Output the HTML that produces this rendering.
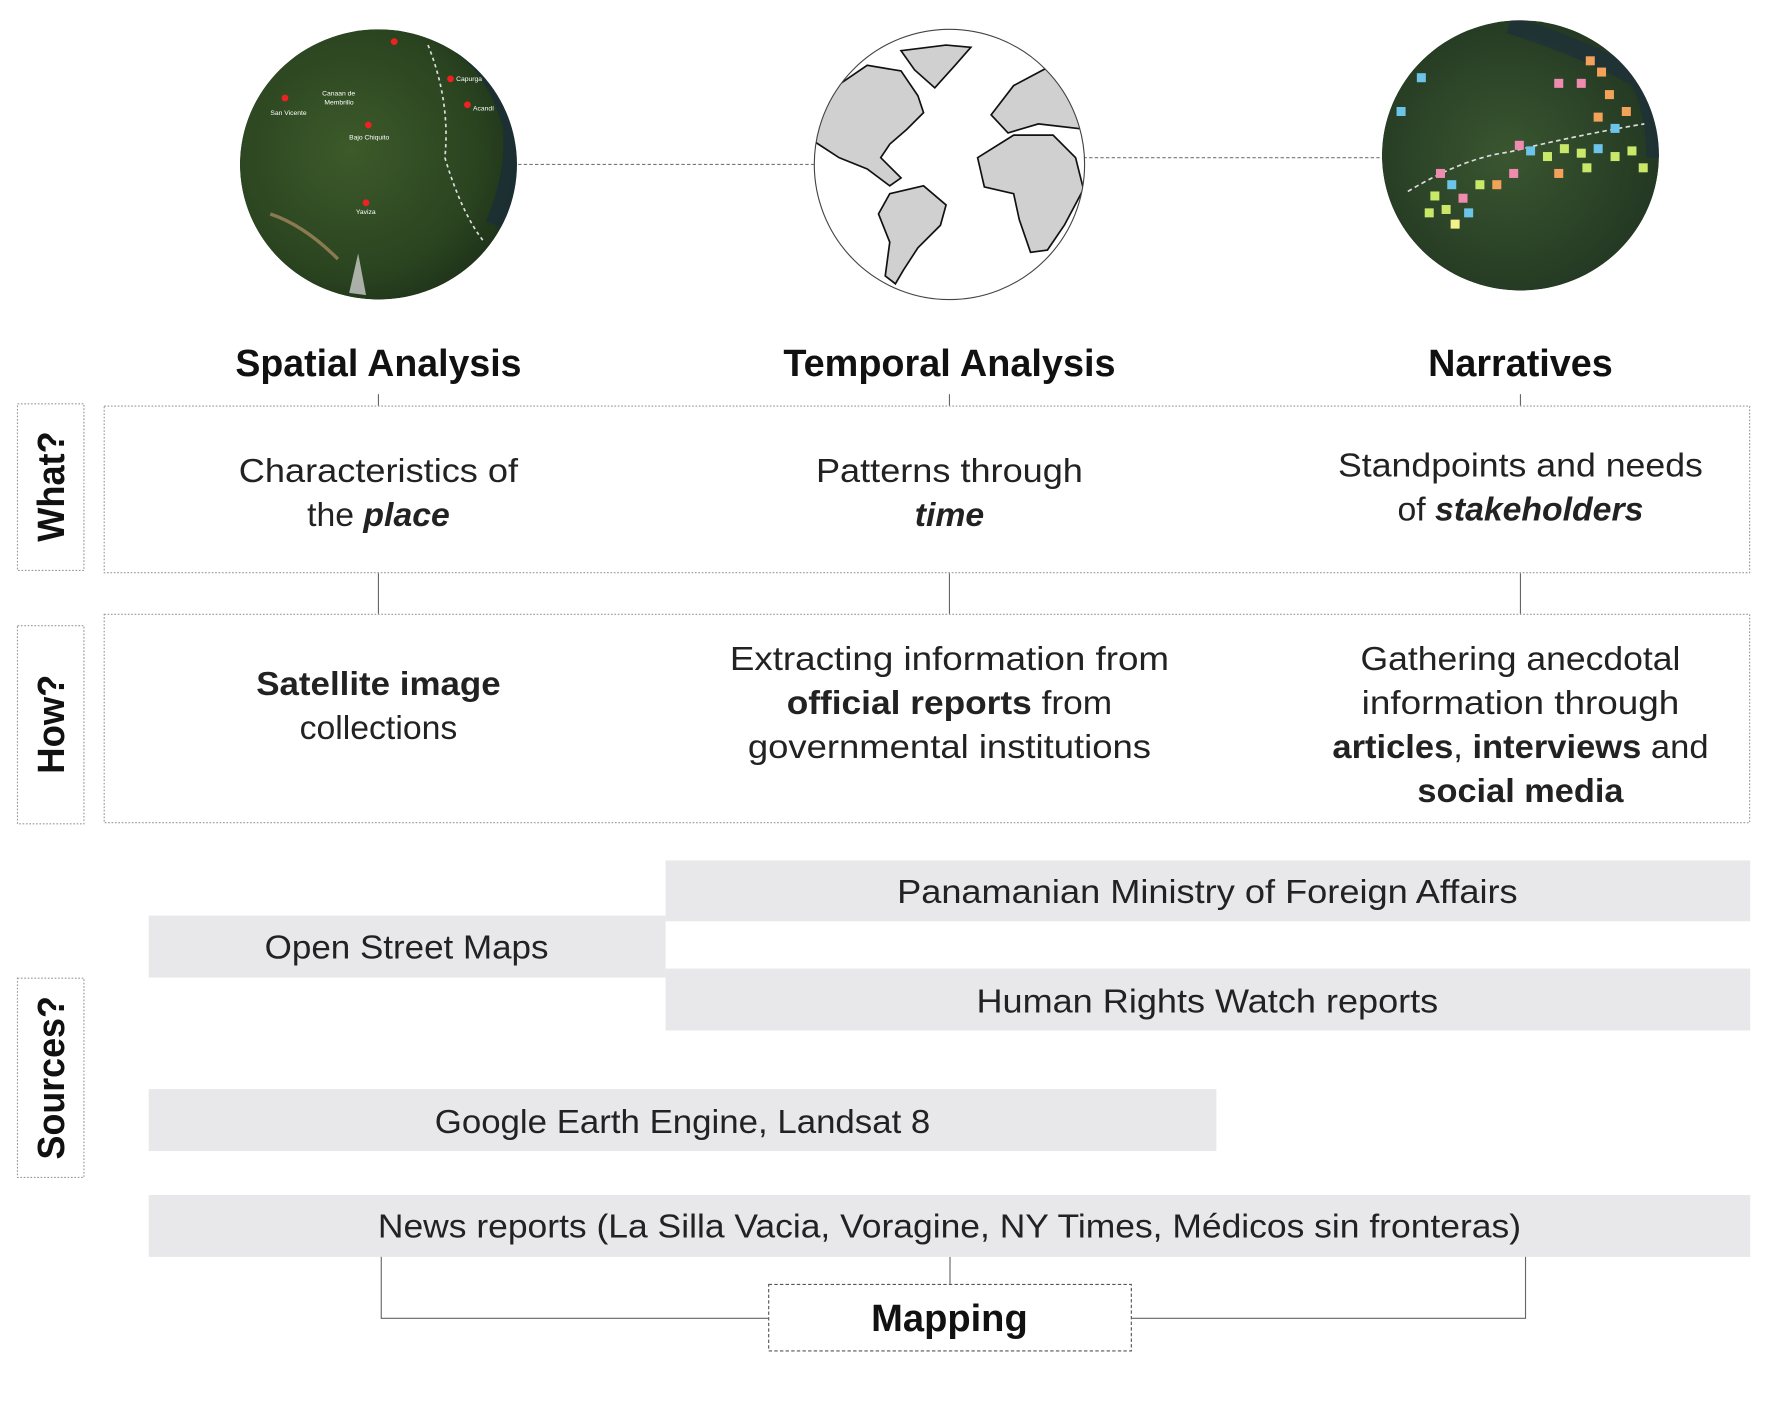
<!DOCTYPE html>
<html><head><meta charset="utf-8"><style>
html,body{margin:0;padding:0;background:#fff;}
svg{display:block;}
text{font-family:"Liberation Sans",sans-serif;}
.h{font-weight:bold;font-size:34px;fill:#111;}
.b{font-size:30px;fill:#222;}
.bb{font-weight:bold;}
.bi{font-weight:bold;font-style:italic;}
</style></head><body>
<svg width="1766" height="1406" viewBox="0 0 1568 1248.4" xmlns="http://www.w3.org/2000/svg">
<defs>
<radialGradient id="g1" cx="40%" cy="45%" r="65%"><stop offset="0" stop-color="#3d5a2a"/><stop offset="0.7" stop-color="#2a4420"/><stop offset="1" stop-color="#1d3018"/></radialGradient>
<radialGradient id="g3" cx="45%" cy="50%" r="65%"><stop offset="0" stop-color="#3a5630"/><stop offset="1" stop-color="#1f3320"/></radialGradient>
<clipPath id="c1"><ellipse cx="336" cy="146" rx="123" ry="120"/></clipPath>
<clipPath id="c2"><circle cx="843" cy="146" r="120"/></clipPath>
<clipPath id="c3"><ellipse cx="1350" cy="138" rx="123" ry="120"/></clipPath>
</defs>
<line x1="460" y1="146" x2="723" y2="146" stroke="#777" stroke-width="1" stroke-dasharray="3,2"/>
<line x1="962" y1="140" x2="1228" y2="140" stroke="#777" stroke-width="1" stroke-dasharray="3,2"/>
<!-- left circle -->
<g clip-path="url(#c1)">
<ellipse cx="336" cy="146" rx="123" ry="120" fill="url(#g1)"/>
<path d="M410 40 Q440 60 455 110 Q460 150 440 200" stroke="#1a2c3c" stroke-width="18" fill="none" opacity="0.7"/>
<path d="M380 40 Q400 90 395 140 Q410 190 430 215" stroke="#ddd" stroke-width="1.5" stroke-dasharray="3,3" fill="none"/>
<path d="M240 190 Q270 200 300 230" stroke="#8a7a50" stroke-width="3" fill="none"/>
<path d="M310 260 L318 225 L325 262 Z" fill="#ccc" opacity="0.8"/>
<g fill="#e22"><circle cx="350" cy="37" r="3"/><circle cx="400" cy="70" r="3"/><circle cx="253" cy="87" r="3"/><circle cx="327" cy="111" r="3"/><circle cx="325" cy="180" r="3"/><circle cx="415" cy="93" r="3"/></g>
<g fill="#fff" font-size="6"><text x="240" y="102">San Vicente</text><text x="286" y="85">Canaan de</text><text x="288" y="93">Membrillo</text><text x="310" y="124">Bajo Chiquito</text><text x="316" y="190">Yaviza</text><text x="405" y="72">Capurga</text><text x="420" y="98">Acandí</text></g>
</g>
<!-- middle globe -->
<circle cx="843" cy="146" r="120" fill="#fff"/>
<g clip-path="url(#c2)" fill="#d0d0d0" stroke="#111" stroke-width="1.5">
<path d="M720 110 L745 75 L770 58 L800 63 L815 85 L820 100 L805 115 L790 128 L782 140 L800 158 L790 165 L770 150 L745 140 L722 125 Z"/>
<path d="M800 45 L840 40 L862 42 L848 58 L830 78 L812 62 Z"/>
<path d="M790 172 L820 165 L840 182 L835 200 L815 220 L802 240 L795 252 L786 245 L790 215 L780 190 Z"/>
<path d="M868 140 L900 120 L935 120 L955 140 L962 168 L945 200 L930 222 L915 224 L905 195 L900 172 L874 166 Z"/>
<path d="M880 102 L900 76 L930 60 L955 72 L965 115 L922 110 L895 118 Z"/>
</g>
<circle cx="843" cy="146" r="120" fill="none" stroke="#444" stroke-width="1"/>
<!-- right circle -->
<g clip-path="url(#c3)">
<ellipse cx="1350" cy="138" rx="123" ry="120" fill="url(#g3)"/>
<path d="M1340 22 Q1400 40 1455 70 Q1470 100 1470 140" stroke="#1c2d3f" stroke-width="16" fill="none" opacity="0.6"/>
<path d="M1250 170 Q1300 140 1340 135 Q1400 120 1460 110" stroke="#ddd" stroke-width="1.5" stroke-dasharray="4,3" fill="none"/>
<rect x="1408" y="50" width="8" height="8" fill="#f4a259"/><rect x="1418" y="60" width="8" height="8" fill="#f4a259"/><rect x="1400" y="70" width="8" height="8" fill="#f08bb0"/><rect x="1425" y="80" width="8" height="8" fill="#f4a259"/><rect x="1415" y="100" width="8" height="8" fill="#f4a259"/><rect x="1440" y="95" width="8" height="8" fill="#f4a259"/><rect x="1430" y="110" width="8" height="8" fill="#6cc5e8"/><rect x="1258" y="65" width="8" height="8" fill="#6cc5e8"/><rect x="1240" y="95" width="8" height="8" fill="#6cc5e8"/><rect x="1380" y="70" width="8" height="8" fill="#f08bb0"/>
<rect x="1345" y="125" width="8" height="8" fill="#f08bb0"/><rect x="1355" y="130" width="8" height="8" fill="#6cc5e8"/><rect x="1370" y="135" width="8" height="8" fill="#c9e86a"/><rect x="1385" y="128" width="8" height="8" fill="#c9e86a"/><rect x="1400" y="132" width="8" height="8" fill="#c9e86a"/><rect x="1415" y="128" width="8" height="8" fill="#6cc5e8"/><rect x="1430" y="135" width="8" height="8" fill="#c9e86a"/><rect x="1445" y="130" width="8" height="8" fill="#c9e86a"/><rect x="1455" y="145" width="8" height="8" fill="#c9e86a"/><rect x="1405" y="145" width="8" height="8" fill="#c9e86a"/><rect x="1380" y="150" width="8" height="8" fill="#f4a259"/><rect x="1340" y="150" width="8" height="8" fill="#f08bb0"/><rect x="1325" y="160" width="8" height="8" fill="#f4a259"/>
<rect x="1275" y="150" width="8" height="8" fill="#f08bb0"/><rect x="1285" y="160" width="8" height="8" fill="#6cc5e8"/><rect x="1270" y="170" width="8" height="8" fill="#c9e86a"/><rect x="1295" y="172" width="8" height="8" fill="#f08bb0"/><rect x="1280" y="182" width="8" height="8" fill="#c9e86a"/><rect x="1265" y="185" width="8" height="8" fill="#c9e86a"/><rect x="1300" y="185" width="8" height="8" fill="#6cc5e8"/><rect x="1288" y="195" width="8" height="8" fill="#f4f08a"/><rect x="1310" y="160" width="8" height="8" fill="#c9e86a"/>
</g>
<!-- headings -->
<text class="h" x="336" y="334" text-anchor="middle" textLength="254" lengthAdjust="spacingAndGlyphs">Spatial Analysis</text>
<text class="h" x="843" y="334" text-anchor="middle" textLength="295" lengthAdjust="spacingAndGlyphs">Temporal Analysis</text>
<text class="h" x="1350" y="334" text-anchor="middle" textLength="164" lengthAdjust="spacingAndGlyphs">Narratives</text>
<g stroke="#666" stroke-width="1">
<line x1="336" y1="350" x2="336" y2="360"/><line x1="843" y1="350" x2="843" y2="360"/><line x1="1350" y1="350" x2="1350" y2="360"/>
<line x1="336" y1="509" x2="336" y2="545"/><line x1="843" y1="509" x2="843" y2="545"/><line x1="1350" y1="509" x2="1350" y2="545"/>
</g>
<g fill="none" stroke="#999" stroke-width="1" stroke-dasharray="1.5,1.5">
<rect x="15.5" y="358.5" width="59" height="148"/>
<rect x="92.5" y="360.5" width="1461" height="148"/>
<rect x="15.5" y="555.5" width="59" height="176"/>
<rect x="92.5" y="545.5" width="1461" height="185"/>
<rect x="15.5" y="868.5" width="59" height="177"/>
</g>
<text class="h" transform="translate(57,432) rotate(-90)" text-anchor="middle" textLength="98" lengthAdjust="spacingAndGlyphs">What?</text>
<text class="h" transform="translate(57,643) rotate(-90)" text-anchor="middle" textLength="88" lengthAdjust="spacingAndGlyphs">How?</text>
<text class="h" transform="translate(57,957) rotate(-90)" text-anchor="middle" textLength="145" lengthAdjust="spacingAndGlyphs">Sources?</text>
<text class="b" x="336" y="428" text-anchor="middle" textLength="248" lengthAdjust="spacingAndGlyphs">Characteristics of</text>
<text class="b" x="336" y="467" text-anchor="middle">the <tspan class="bi">place</tspan></text>
<text class="b" x="843" y="428" text-anchor="middle" textLength="237" lengthAdjust="spacingAndGlyphs">Patterns through</text>
<text class="b bi" x="843" y="467" text-anchor="middle">time</text>
<text class="b" x="1350" y="423" text-anchor="middle" textLength="324" lengthAdjust="spacingAndGlyphs">Standpoints and needs</text>
<text class="b" x="1350" y="462" text-anchor="middle">of <tspan class="bi">stakeholders</tspan></text>
<text class="b bb" x="336" y="617" text-anchor="middle" textLength="217" lengthAdjust="spacingAndGlyphs">Satellite image</text>
<text class="b" x="336" y="656" text-anchor="middle">collections</text>
<text class="b" x="843" y="595" text-anchor="middle" textLength="390" lengthAdjust="spacingAndGlyphs">Extracting information from</text>
<text class="b" x="843" y="634" text-anchor="middle" textLength="289" lengthAdjust="spacingAndGlyphs"><tspan class="bb">official reports</tspan> from</text>
<text class="b" x="843" y="673" text-anchor="middle" textLength="358" lengthAdjust="spacingAndGlyphs">governmental institutions</text>
<text class="b" x="1350" y="595" text-anchor="middle" textLength="284" lengthAdjust="spacingAndGlyphs">Gathering anecdotal</text>
<text class="b" x="1350" y="634" text-anchor="middle" textLength="282" lengthAdjust="spacingAndGlyphs">information through</text>
<text class="b" x="1350" y="673" text-anchor="middle" textLength="334" lengthAdjust="spacingAndGlyphs"><tspan class="bb">articles</tspan>, <tspan class="bb">interviews</tspan> and</text>
<text class="b bb" x="1350" y="712" text-anchor="middle" textLength="183" lengthAdjust="spacingAndGlyphs">social media</text>
<g fill="#e8e8ea">
<rect x="591" y="764" width="963" height="54"/>
<rect x="132" y="813" width="459" height="55"/>
<rect x="591" y="860" width="963" height="55"/>
<rect x="132" y="967" width="948" height="55"/>
<rect x="132" y="1061" width="1422" height="55"/>
</g>
<text class="b" x="1072" y="802" text-anchor="middle" textLength="551" lengthAdjust="spacingAndGlyphs">Panamanian Ministry of Foreign Affairs</text>
<text class="b" x="361" y="851" text-anchor="middle" textLength="252" lengthAdjust="spacingAndGlyphs">Open Street Maps</text>
<text class="b" x="1072" y="899" text-anchor="middle" textLength="410" lengthAdjust="spacingAndGlyphs">Human Rights Watch reports</text>
<text class="b" x="606" y="1006" text-anchor="middle" textLength="440" lengthAdjust="spacingAndGlyphs">Google Earth Engine, Landsat 8</text>
<text class="b" x="843" y="1099" text-anchor="middle" textLength="1015" lengthAdjust="spacingAndGlyphs">News reports (La Silla Vacia, Voragine, NY Times, Médicos sin fronteras)</text>
<g stroke="#666" stroke-width="1" fill="none">
<polyline points="338.5,1116 338.5,1170.5 682,1170.5"/>
<line x1="843.5" y1="1116" x2="843.5" y2="1140"/>
<polyline points="1354.5,1116 1354.5,1170.5 1005,1170.5"/>
</g>
<rect x="682.5" y="1140.5" width="322" height="59" fill="#fff" stroke="#555" stroke-width="1" stroke-dasharray="3,2"/>
<text class="h" x="843" y="1182" text-anchor="middle" textLength="139" lengthAdjust="spacingAndGlyphs">Mapping</text>
</svg>
</body></html>
